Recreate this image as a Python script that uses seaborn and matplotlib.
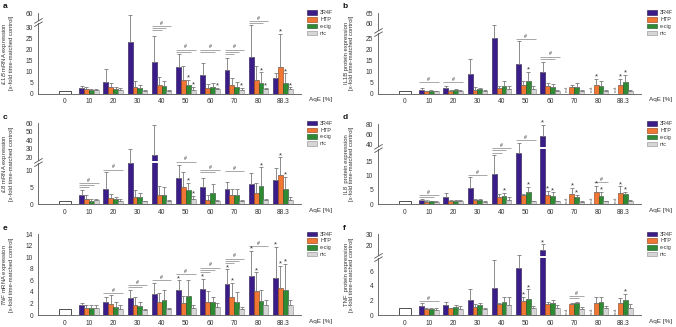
import numpy as np
import pandas as pd
import matplotlib
matplotlib.use("Agg")
import matplotlib.pyplot as plt
import seaborn as sns
from matplotlib.path import Path
from matplotlib.patches import Patch
from matplotlib import transforms as mtransforms
from matplotlib.ticker import NullLocator

# ---------------- data ----------------
categories = ['0', '10', '20', '30', '40', '50', '60', '70', '80', '88.3']
exposed = categories[1:]
groups = ['3R4F', 'HTP', 'e-cig', 'nic']
control_value = 1.0
ND = None

# panel a: IL1B mRNA
a_mean = {'3R4F': [2.3, 5.3, 23.6, 14.3, 12.2, 8.6, 10.9, 16.8, 7.0],
          'HTP': [1.9, 2.8, 2.8, 3.8, 6.0, 2.7, 3.8, 6.0, 12.2],
          'e-cig': [1.4, 1.9, 2.4, 3.3, 3.8, 2.9, 2.9, 4.7, 4.7],
          'nic': [1.5, 1.5, 1.3, 1.3, 1.7, 1.9, 1.8, 1.9, 1.9]}
a_top = {'3R4F': [3.5, 11.0, 55.0, 26.3, 18.0, 14.0, 16.3, 34.5, 9.5],
         'HTP': [3.0, 4.7, 5.8, 7.3, 12.5, 4.5, 7.2, 12.3, 27.0],
         'e-cig': [2.2, 2.8, 3.7, 5.5, 6.2, 4.8, 5.3, 9.6, 9.2],
         'nic': [2.2, 2.3, 1.6, 1.7, 3.0, 2.5, 2.6, 2.7, 2.8]}
a_stars = [('50', 'e-cig'), ('50', 'nic'), ('60', 'nic'), ('70', 'nic'), ('80', 'e-cig'),
           ('80', 'nic'), ('88.3', 'HTP'), ('88.3', 'e-cig'), ('88.3', 'nic')]
a_hash = [('40', '3R4F', ['nic', 'e-cig', 'HTP'], 32.7), ('50', '3R4F', ['nic', 'e-cig'], 20.0),
          ('60', '3R4F', ['nic', 'e-cig'], 20.0), ('70', '3R4F', ['nic', 'e-cig', 'HTP'], 20.0),
          ('80', '3R4F', ['nic', 'e-cig'], 43.5)]
a_yticks = [0, 5, 10, 15, 20, 25, 30, 60]

# panel b: IL1B protein
b_mean = {'3R4F': [1.5, 2.6, 8.8, 25.5, 13.6, 9.7, ND, ND, ND],
          'HTP': [1.0, 1.1, 1.8, 2.5, 3.9, 3.5, 2.8, 4.0, 4.0],
          'e-cig': [1.2, 1.5, 1.9, 3.3, 5.5, 3.0, 3.0, 3.4, 5.2],
          'nic': [1.0, 1.2, 1.3, 2.0, 2.0, 1.3, 1.2, 1.3, 1.2]}
b_top = {'3R4F': [2.5, 3.2, 15.5, 59.5, 23.8, 14.2, ND, ND, ND],
         'HTP': [1.3, 1.4, 2.8, 3.2, 5.5, 5.0, 3.7, 6.8, 6.6],
         'e-cig': [1.6, 2.2, 2.7, 5.7, 9.8, 4.2, 5.0, 5.6, 8.6],
         'nic': [1.3, 1.5, 1.7, 3.3, 3.3, 1.7, 1.5, 1.8, 1.5]}
b_stars = [('50', 'e-cig'), ('80', 'HTP'), ('88.3', 'HTP'), ('88.3', 'e-cig')]
b_hash = [('10', '3R4F', ['nic'], 5.2), ('20', '3R4F', ['nic'], 5.2),
          ('50', '3R4F', ['nic'], 24.7), ('60', '3R4F', ['nic', 'e-cig'], 16.8)]
b_yticks = [0, 5, 10, 15, 20, 25, 60, 65]

# panel c: IL8 mRNA
c_mean = {'3R4F': [2.6, 4.5, 13.0, 22.4, 7.8, 5.1, 4.6, 6.0, 7.1],
          'HTP': [1.5, 1.8, 2.1, 2.8, 5.0, 1.4, 2.6, 3.2, 8.7],
          'e-cig': [1.1, 1.6, 2.1, 2.8, 4.1, 3.2, 2.6, 5.4, 4.5],
          'nic': [1.2, 1.0, 0.9, 1.0, 1.5, 1.0, 0.9, 1.2, 1.4]}
c_top = {'3R4F': [4.1, 9.5, 30.0, 58.4, 11.6, 7.9, 6.7, 9.1, 10.7],
         'HTP': [2.6, 3.0, 4.2, 5.5, 9.5, 2.8, 4.6, 6.3, 19.6],
         'e-cig': [1.5, 2.3, 3.2, 5.0, 6.3, 6.1, 4.4, 10.9, 8.1],
         'nic': [1.7, 1.5, 1.1, 1.3, 2.5, 1.4, 1.2, 1.7, 2.2]}
c_stars = [('50', 'e-cig'), ('50', 'nic'), ('80', 'e-cig'), ('88.3', 'HTP'), ('88.3', 'e-cig')]
c_hash = [('10', '3R4F', ['nic', 'e-cig', 'HTP'], 6.3), ('20', '3R4F', ['nic'], 10.2),
          ('50', '3R4F', ['nic'], 14.6), ('60', '3R4F', ['nic', 'e-cig'], 10.0),
          ('70', '3R4F', ['nic'], 9.7)]
c_yticks = [0, 5, 10, 20, 30, 40, 50, 60]

# panel d: IL8 protein
d_mean = {'3R4F': [1.6, 2.6, 5.7, 10.6, 18.0, 56.0, ND, ND, ND],
          'HTP': [0.8, 1.1, 1.5, 2.5, 3.2, 3.2, 3.6, 4.3, 4.0],
          'e-cig': [1.0, 1.3, 1.5, 2.9, 4.3, 2.9, 2.5, 3.0, 3.7],
          'nic': [0.8, 1.0, 0.9, 1.4, 1.0, 1.0, 0.9, 1.0, 1.1]}
d_top = {'3R4F': [1.8, 3.9, 9.5, 17.3, 41.4, 79.0, ND, ND, ND],
         'HTP': [1.0, 1.4, 1.9, 3.5, 3.7, 4.8, 5.7, 6.4, 6.3],
         'e-cig': [1.3, 1.6, 1.8, 3.9, 6.0, 4.2, 3.2, 4.4, 4.3],
         'nic': [1.0, 1.4, 1.3, 2.4, 1.3, 1.3, 1.1, 1.3, 1.6]}
d_stars = [('40', 'e-cig'), ('50', 'e-cig'), ('60', '3R4F'), ('60', 'HTP'), ('60', 'e-cig'),
           ('70', 'HTP'), ('70', 'e-cig'), ('80', 'HTP'), ('80', 'e-cig'),
           ('88.3', 'HTP'), ('88.3', 'e-cig')]
d_hash = [('10', '3R4F', ['nic', 'e-cig', 'HTP'], 3.1), ('30', '3R4F', ['nic'], 10.1),
          ('40', '3R4F', ['nic', 'e-cig', 'HTP'], 27.0), ('50', '3R4F', ['nic'], 48.0),
          ('80', 'HTP', ['nic'], 7.8)]
d_yticks = [0, 5, 10, 15, 40, 60, 80]

# panel e: TNF mRNA
e_mean = {'3R4F': [1.7, 2.3, 3.0, 3.6, 4.3, 4.5, 5.3, 6.7, 6.5],
          'HTP': [1.3, 1.9, 1.7, 2.2, 2.1, 2.3, 3.1, 4.2, 4.6],
          'e-cig': [1.2, 1.4, 1.6, 2.6, 3.3, 2.2, 2.3, 2.5, 4.4],
          'nic': [1.2, 1.0, 0.9, 1.0, 1.3, 1.4, 1.1, 1.7, 1.7]}
e_top = {'3R4F': [2.0, 3.2, 4.3, 5.5, 6.0, 6.3, 7.9, 11.1, 11.8],
         'HTP': [1.8, 3.4, 3.1, 3.9, 3.3, 4.1, 5.6, 7.4, 8.5],
         'e-cig': [1.7, 2.2, 2.3, 4.4, 6.0, 3.2, 4.0, 4.4, 8.9],
         'nic': [1.8, 1.8, 1.1, 1.3, 1.8, 2.0, 1.4, 2.6, 2.6]}
e_stars = [('50', '3R4F'), ('60', '3R4F'), ('70', '3R4F'), ('70', 'HTP'), ('80', '3R4F'),
           ('80', 'HTP'), ('88.3', '3R4F'), ('88.3', 'HTP'), ('88.3', 'e-cig')]
e_hash = [('20', '3R4F', ['nic'], 3.8), ('30', '3R4F', ['nic', 'e-cig'], 5.2),
          ('40', '3R4F', ['nic'], 6.1), ('50', '3R4F', ['nic'], 7.1),
          ('60', '3R4F', ['nic', 'e-cig', 'HTP'], 8.2), ('70', '3R4F', ['nic', 'e-cig', 'HTP'], 9.8),
          ('80', '3R4F', ['nic'], 12.0)]
e_yticks = [0, 2, 4, 6, 8, 10, 12, 14]

# panel f: TNF protein
f_mean = {'3R4F': [1.2, 1.4, 2.1, 3.7, 6.4, 16.0, ND, ND, ND],
          'HTP': [0.8, 0.9, 1.1, 1.5, 1.9, 1.5, 1.5, 1.7, 1.6],
          'e-cig': [0.8, 1.1, 1.4, 1.8, 2.2, 1.7, 1.6, 1.8, 2.0],
          'nic': [0.7, 0.8, 0.8, 1.4, 0.9, 1.0, 0.8, 0.9, 0.9]}
f_top = {'3R4F': [1.6, 1.8, 3.5, 7.5, 11.5, 21.0, ND, ND, ND],
         'HTP': [1.0, 1.0, 1.5, 1.7, 2.5, 1.8, 1.7, 2.4, 2.3],
         'e-cig': [1.0, 1.4, 1.7, 2.5, 3.5, 2.1, 1.8, 2.5, 2.9],
         'nic': [0.9, 1.3, 1.0, 2.5, 1.2, 1.4, 1.1, 1.3, 1.5]}
f_stars = [('50', 'HTP'), ('50', 'e-cig'), ('60', '3R4F'), ('88.3', 'e-cig')]
f_hash = [('10', '3R4F', ['nic'], 1.9), ('70', 'HTP', ['nic', 'e-cig'], 2.6)]
f_yticks = [0, 2, 4, 6, 20, 30]

# ---------------- style ----------------
sns.set_theme(style="white")
plt.rcParams['font.family'] = ['Liberation Sans', 'DejaVu Sans']
plt.rcParams['mathtext.fontset'] = 'custom'
plt.rcParams['mathtext.rm'] = 'Liberation Sans'
plt.rcParams['mathtext.it'] = 'Liberation Sans:italic'

palette = {'3R4F': '#3b1d8a', 'HTP': '#f07634', 'e-cig': '#2e8b34', 'nic': '#d6d6d6'}
edges = {'3R4F': '#24124f', 'HTP': '#8a3b12', 'e-cig': '#1b5220', 'nic': '#8c8c8c'}
TXT = '#333333'


def piecewise_scale(b, k, t=None, k2=1.0):
    tt = 1e9 if t is None else t
    fb = b
    ft = b + (tt - b) * k

    def fwd(y):
        y = np.asarray(y, dtype=float)
        return np.minimum(y, b) + (np.clip(y, b, tt) - b) * k + (np.maximum(y, tt) - tt) * k2

    def inv(f):
        f = np.asarray(f, dtype=float)
        return np.minimum(f, fb) + (np.clip(f, fb, ft) - fb) / k + (np.maximum(f, ft) - ft) / k2
    return fwd, inv


W, H = 676, 327
fig = plt.figure(figsize=(W / 100, H / 100), dpi=100)


def add_axes(left, top, bottom):
    return fig.add_axes([left / W, (H - bottom) / H, 263 / W, (bottom - top) / H])


def draw_panel(ax, letter, ylabel, mean, top, stars, hashes, yticks, ylim, scale, breakmark):
    rows = []
    for g in groups:
        for c, v in zip(exposed, mean[g]):
            rows.append({'AqE': c, 'group': g, 'value': 0.0 if v is None else v})
    df = pd.DataFrame(rows)
    ctrl = pd.DataFrame({'AqE': [categories[0]], 'value': [control_value]})

    sns.barplot(data=ctrl, x='AqE', y='value', order=categories, width=0.5, color='white',
                saturation=1, edgecolor='#333333', linewidth=0.6, errorbar=None, ax=ax)
    n0 = len(ax.containers)
    sns.barplot(data=df, x='AqE', y='value', hue='group', order=categories, hue_order=groups,
                palette=palette, saturation=1, width=0.8, linewidth=0.4, errorbar=None,
                legend=False, ax=ax)

    pos = {}
    for gi, cont in enumerate(ax.containers[n0:]):
        g = groups[gi]
        for p in cont.patches:
            p.set_edgecolor(edges[g])
            p.set_linewidth(0.4)
            xc = p.get_x() + p.get_width() / 2
            ci = int(round(xc))
            pos[(categories[ci], g)] = p

    if scale is not None:
        ax.set_yscale('function', functions=scale)

    # n.d. markers and hidden empty bars
    for g in groups:
        for c, v in zip(exposed, mean[g]):
            if v is None:
                p = pos[(c, g)]
                p.set_visible(False)
                ax.annotate('n.d.', (p.get_x() + p.get_width() / 2, 0), xytext=(0, 1.0),
                            textcoords='offset points', rotation=90, ha='center', va='bottom',
                            fontsize=3.2, color='#555555')

    # error bars (upper only)
    for g in groups:
        for c, v, t in zip(exposed, mean[g], top[g]):
            if v is None or t is None:
                continue
            p = pos[(c, g)]
            x = p.get_x() + p.get_width() / 2
            ax.errorbar([x], [v], yerr=[[0], [t - v]], fmt='none', ecolor='#7a7a7a',
                        elinewidth=0.6, capsize=1.2, capthick=0.6, zorder=4)

    # asterisks
    tops = {(c, g): t for g in groups for c, t in zip(exposed, top[g])}
    for c, g in stars:
        p = pos[(c, g)]
        ax.annotate('*', (p.get_x() + p.get_width() / 2, tops[(c, g)]), xytext=(0, -1.2),
                    textcoords='offset points', ha='center', va='bottom', fontsize=5.5,
                    color=TXT, zorder=6, annotation_clip=False)

    # significance brackets
    for c, src, targets, y in hashes:
        xs = pos[(c, src)].get_x()
        xe_top = None
        for i, tg in enumerate(targets):
            pt = pos[(c, tg)]
            xe = pt.get_x() + pt.get_width()
            if i == 0:
                xe_top = xe
            tr = mtransforms.offset_copy(ax.transData, fig=fig, x=0, y=-1.5 * i, units='points')
            ax.plot([xs, xe], [y, y], color='#9a9a9a', lw=0.6, transform=tr,
                    solid_capstyle='butt', zorder=5, clip_on=False)
        ax.annotate('#', ((xs + xe_top) / 2, y), xytext=(0, 0.2), textcoords='offset points',
                    ha='center', va='bottom', fontsize=3.8, color=TXT, zorder=6,
                    annotation_clip=False)

    # broken axis
    if breakmark is not None:
        ax.axhline(breakmark, color='white', lw=1.4, zorder=3)
        mk = Path([(-1, -1.0), (1, 0.2), (-1, -0.2), (1, 1.0)],
                  [Path.MOVETO, Path.LINETO, Path.MOVETO, Path.LINETO])
        bt = mtransforms.blended_transform_factory(ax.transAxes, ax.transData)
        ax.plot([0], [breakmark], marker=mk, markersize=6, color='#555555', mew=0.6,
                transform=bt, clip_on=False, zorder=7, linestyle='none')

    ax.set_xlim(-1.1, 9.75)
    ax.set_ylim(*ylim)
    ax.set_yticks(yticks)
    ax.set_yticklabels([str(t) for t in yticks])
    ax.yaxis.set_minor_locator(NullLocator())
    ax.set_xlabel('')
    ax.set_ylabel(ylabel, fontsize=4.2, color=TXT, linespacing=1.1)
    ax.yaxis.set_label_coords(-0.09, 0.5)
    ax.tick_params(axis='y', length=2, width=0.5, pad=1.5, labelsize=4.8, colors=TXT)
    ax.tick_params(axis='x', length=0, pad=3.5, labelsize=4.8, colors=TXT)
    for s in ['top', 'right']:
        ax.spines[s].set_visible(False)
    for s in ['left', 'bottom']:
        ax.spines[s].set_color('#555555')
        ax.spines[s].set_linewidth(0.6)

    ax.text(1.03, -0.075, 'AqE [%]', transform=ax.transAxes, ha='left', va='center',
            fontsize=4.6, color=TXT)
    handles = [Patch(facecolor=palette[g], edgecolor=edges[g], linewidth=0.4, label=g)
               for g in groups]
    leg = ax.legend(handles=handles, loc='upper left', bbox_to_anchor=(1.015, 1.06),
                    frameon=False, fontsize=3.9, handlelength=1.9, handleheight=0.9,
                    labelspacing=0.3, handletextpad=0.5, borderaxespad=0)
    for t in leg.get_texts():
        t.set_color(TXT)
    ax.text(-0.135, 1.12, letter, transform=ax.transAxes, fontsize=6, fontweight='bold',
            color='#111111', ha='left', va='top')


second = '\n[x-fold time-matched control]'
ax_a = add_axes(38, 13, 93.5)
ax_b = add_axes(378, 13, 93.5)
ax_c = add_axes(38, 123.5, 204.3)
ax_d = add_axes(378, 124, 204.3)
ax_e = add_axes(38, 234.3, 315)
ax_f = add_axes(378, 234.3, 315)

draw_panel(ax_a, 'a', r'$\mathit{IL1B}$ mRNA expression' + second, a_mean, a_top, a_stars, a_hash,
           a_yticks, (0, 60), piecewise_scale(30, 0.222), 41)
draw_panel(ax_b, 'b', 'IL1B protein expression' + second, b_mean, b_top, b_stars, b_hash,
           b_yticks, (0, 65), piecewise_scale(27, 0.072, 57.5, 1.0), 42)
draw_panel(ax_c, 'c', r'$\mathit{IL8}$ mRNA expression' + second, c_mean, c_top, c_stars, c_hash,
           c_yticks, (0, 60), piecewise_scale(11.9, 0.248), 14.7)
draw_panel(ax_d, 'd', 'IL8  protein expression' + second, d_mean, d_top, d_stars, d_hash,
           d_yticks, (0, 80), piecewise_scale(18.5, 0.116, 40, 0.175), 29)
draw_panel(ax_e, 'e', r'$\mathit{TNF}$ mRNA expression' + second, e_mean, e_top, e_stars, e_hash,
           e_yticks, (0, 14), None, None)
draw_panel(ax_f, 'f', 'TNF  protein expression' + second, f_mean, f_top, f_stars, f_hash,
           f_yticks, (0, 30), piecewise_scale(7.6, 0.154), 10.2)

fig.savefig('out.png', dpi=100)
